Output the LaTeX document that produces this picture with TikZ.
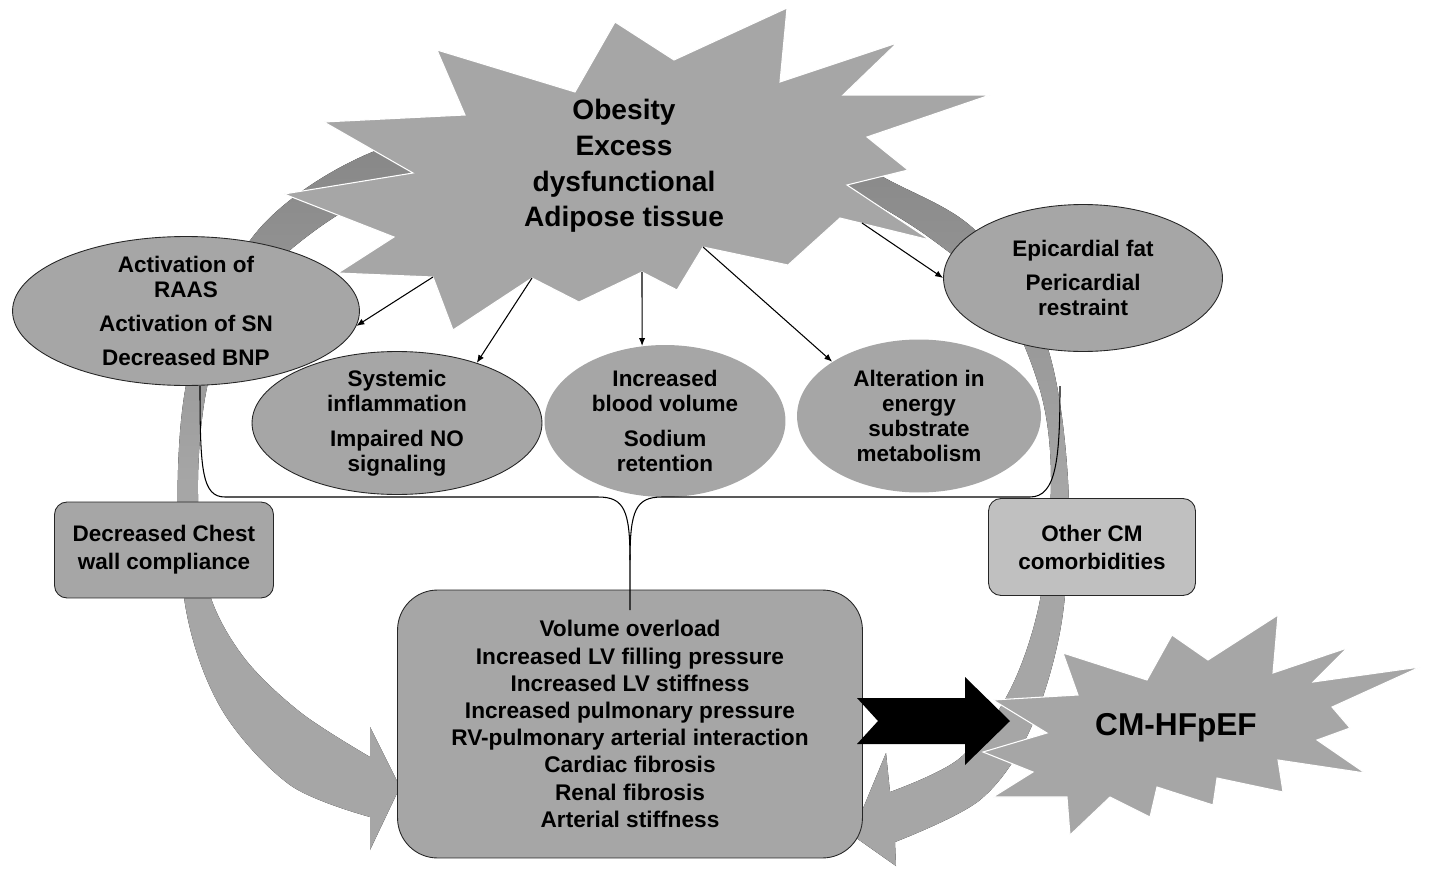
\documentclass[tikz,border=0pt]{standalone}
\usepackage{fontspec}
\setmainfont{Liberation Sans}
\usetikzlibrary{shapes.geometric,arrows.meta,calc}

\definecolor{boxgray}{HTML}{A6A6A6}
\definecolor{palegray}{HTML}{C0C0C0}
\definecolor{ringtop}{HTML}{858585}

\newcommand{\txtfont}{\fontsize{12.8}{14.2}\selectfont\bfseries}

\tikzset{
  bubble/.style={ellipse, draw=black!85, line width=0.5pt, fill=boxgray, align=center, inner sep=-3pt, font=\txtfont},
  flatbubble/.style={bubble, draw=none},
  panel/.style={rectangle, rounded corners=0.25cm, draw=black!85, line width=0.5pt, fill=boxgray, align=center, inner sep=0pt, font=\fontsize{12.8}{15.9}\selectfont\bfseries},
  burst/.style={fill=boxgray, draw=white, line width=0.6pt},
  ring/.style={top color=ringtop, bottom color=boxgray, middle color=boxgray},
  link/.style={draw=black, line width=0.6pt, -{Latex[length=4.5pt,width=3.6pt]}}
}

\begin{document}
\begin{tikzpicture}[x=0.02cm, y=-0.02cm]
  \useasboundingbox (0,0) rectangle (1431,879);

  % the two big return arrows round the picture
  \fill[ring] plot[smooth, tension=0.55] coordinates {(520,118) (370,153) (260,228) (195,350) (178,470) (186,610) (222,710) (290,785) (370,817)}
    -- (370,850) -- (400,787) -- (370,727)
    -- plot[smooth, tension=0.55] coordinates {(370,757) (300,712) (242,655) (207,585) (198,480) (210,375) (250,290) (330,220) (430,170) (520,150)}
    -- cycle;
  \fill[ring] plot[smooth, tension=0.55] coordinates {(760,112) (883,177) (977,232) (1045,340) (1068,480) (1062,620) (1030,730) (980,800) (895,842)}
    -- (896,866) -- (852,835) -- (886,753)
    -- plot[smooth, tension=0.55] coordinates {(890,792) (960,758) (1010,690) (1040,600) (1051,480) (1040,390) (1000,300) (930,238) (850,190) (760,150)}
    -- cycle;

  % explosion at the top
  \path[burst] (284,194) -- (413,173) -- (324,122) -- (465,115) -- (437,50) -- (575,92)
    -- (615,22) -- (674,60) -- (787,8) -- (780,82) -- (897,43) -- (843,95) -- (990,95)
    -- (867,137) -- (908,170) -- (847,185) -- (930,240) -- (840,218) -- (788,265)
    -- (703,247) -- (677,290) -- (642,272) -- (579,302) -- (532,278) -- (453,330)
    -- (433,277) -- (338,273) -- (394,237) -- cycle;
  \node[font=\fontsize{16}{20.3}\selectfont\bfseries, align=center] (obesity) at (624,166)
    {Obesity\\Excess\\dysfunctional\\Adipose tissue};

  % explosion at the outcome
  \path[burst] (993,700) -- (1078,695) -- (1063,653) -- (1147,680) -- (1172,635) -- (1208,660)
    -- (1278,615) -- (1273,673) -- (1347,648) -- (1313,682) -- (1420,667) -- (1332,707)
    -- (1350,728) -- (1317,740) -- (1365,773) -- (1278,760) -- (1283,792) -- (1217,778)
    -- (1213,805) -- (1157,787) -- (1150,817) -- (1110,797) -- (1070,835) -- (1067,797)
    -- (993,797) -- (1033,772) -- (983,752) -- (1047,733) -- cycle;
  \node[font=\fontsize{18}{21}\selectfont\bfseries] (hfpef) at (1176,728) {CM-HFpEF};

  % mechanisms
  \node[bubble, minimum width=5.8cm, minimum height=2.86cm] (sys) at (397,423)
    {Systemic\\inflammation\\[5.5pt]Impaired NO\\signaling};
  \node[bubble, minimum width=6.94cm, minimum height=2.98cm] (raas) at (186,311)
    {Activation of\\RAAS\\[5pt]Activation of SN\\[5pt]Decreased BNP};
  \node[flatbubble, minimum width=4.82cm, minimum height=3.04cm] (blood) at (665,421)
    {Increased\\blood volume\\[5.5pt]Sodium\\retention};
  \node[flatbubble, minimum width=4.88cm, minimum height=3.06cm] (alter) at (919,416)
    {Alteration in\\energy\\substrate\\metabolism};
  \node[bubble, minimum width=5.58cm, minimum height=2.94cm] (epi) at (1083,278)
    {Epicardial fat\\[5.5pt]Pericardial\\restraint};

  \node[panel, minimum width=4.38cm, minimum height=1.92cm] (chest) at (164,550)
    {Decreased Chest\\wall compliance};
  \node[panel, fill=palegray, minimum width=4.14cm, minimum height=1.94cm] (other) at (1092,547)
    {Other CM\\comorbidities};
  \node[panel, rounded corners=0.8cm, minimum width=9.3cm, minimum height=5.36cm,
        font=\fontsize{12.9}{15.5}\selectfont\bfseries] (volbox) at (630,724)
    {Volume overload\\Increased LV filling pressure\\Increased LV stiffness\\Increased pulmonary pressure\\RV-pulmonary arterial interaction\\Cardiac fibrosis\\Renal fibrosis\\Arterial stiffness};

  % brace gathering the mechanisms
  \coordinate (braceL) at (200,386);
  \coordinate (braceR) at (1060,386);
  \coordinate (braceTip) at (630,610);
  \draw[line width=0.6pt] (braceL) .. controls (200,470) and (202,497) .. (225,497) -- (598,497)
    .. controls (624,497) and (630,510) .. (630,560) -- (braceTip);
  \draw[line width=0.6pt] (630,560) .. controls (630,510) and (636,497) .. (662,497) -- (1030,497)
    .. controls (1056,497) and (1060,460) .. (braceR);

  % arrows from the explosion
  \coordinate (ob-raas) at (433,277);
  \coordinate (ob-sys) at (532,278);
  \coordinate (ob-blood) at (642,272);
  \coordinate (ob-alter) at (703,247);
  \coordinate (ob-epi) at (862,223);
  \draw[link] (ob-raas) -- (raas.-5);
  \draw[link] (ob-sys) -- (sys.37);
  \draw[link] (ob-blood) -- (blood.107);
  \draw[link] (ob-alter) -- (alter.148);
  \draw[link] (ob-epi) -- (epi.west);

  % black notched arrow to the outcome
  \coordinate (sigL) at (857,721);
  \coordinate (sigR) at (1010,721);
  \fill[black] ($(sigL)+(0,-23)$) -- ($(sigR)+(-45,-23)$) -- ($(sigR)+(-45,-44)$) -- (sigR)
    -- ($(sigR)+(-45,44)$) -- ($(sigR)+(-45,23)$) -- ($(sigL)+(0,23)$) -- ($(sigL)+(21,0)$) -- cycle;
\end{tikzpicture}
\end{document}
